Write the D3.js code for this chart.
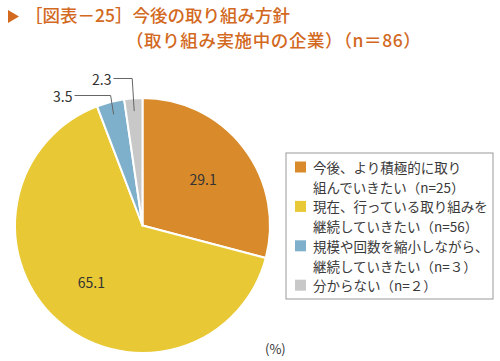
<!DOCTYPE html>
<html lang="ja">
    <head>
        <meta charset="utf-8">
        <title>図表25</title>
        <script type="text/javascript" src="https://d3js.org/d3.v7.min.js"></script>
        <style type="text/css">
            body{ margin: 0; background: #fff; }
            text{ font-family: "Noto Sans CJK JP", "Noto Sans", sans-serif; }
            .title{ fill: #d2691e; font-size: 17.5px; font-weight: 500; }
            .val{ fill: #333; font-size: 14px; }
            .leg{ fill: #3a3a3a; font-size: 13.5px; }
            .leader{ stroke: #666; stroke-width: 1; fill: none; }
        </style>
    </head>
    <body>
        <svg id="chart" width="500" height="361"></svg>
        <script type="text/javascript">
        //data
        const categories = ["今後、より積極的に取り組んでいきたい", "現在、行っている取り組みを継続していきたい", "規模や回数を縮小しながら、継続していきたい", "分からない"];
        const values = [29.1, 65.1, 3.5, 2.3];
        const colors = ["#d98b2c", "#e8c935", "#7fb0cb", "#c8c8c8"];
        const legendLines = [
            ["今後、より積極的に取り", "組んでいきたい（n=25）"],
            ["現在、行っている取り組みを", "継続していきたい（n=56）"],
            ["規模や回数を縮小しながら、", "継続していきたい（n=３）"],
            ["分からない（n=２）"]
        ];
        const titleLines = ["［図表－25］今後の取り組み方針", "（取り組み実施中の企業）（n＝86）"];

        //const
        const svg = d3.select("#chart");
        const cx = 142.5, cy = 225.5, r = 127.5;

        //title
        svg.append("path")
           .attr("d", "M8,10 L19,16.5 L8,23 Z")
           .attr("fill", "#d2691e");
        svg.selectAll(".title")
           .data(titleLines)
           .join("text")
           .attr("class", "title")
           .attr("x", (d,i) => i === 0 ? 25 : 126)
           .attr("y", (d,i) => 22 + i*25)
           .style("letter-spacing", (d,i) => i === 0 ? "0px" : "0.6px")
           .text(d => d);

        //pie
        const pie = d3.pie().sort(null).value(d => d);
        const arcs = pie(values);
        const arc = d3.arc().innerRadius(0).outerRadius(r);
        const g = svg.append("g").attr("transform", `translate(${cx},${cy})`);
        g.selectAll("path")
         .data(arcs)
         .join("path")
         .attr("d", arc)
         .attr("fill", (d,i) => colors[i])
         .attr("stroke", "#fff")
         .attr("stroke-width", 2)
         .attr("stroke-linejoin", "round");

        //inner labels for big slices
        const inner = d3.arc().innerRadius(r*0.6).outerRadius(r*0.6);
        g.selectAll(".val")
         .data(arcs.filter(d => d.value > 10))
         .join("text")
         .attr("class", "val")
         .attr("text-anchor", "middle")
         .attr("dominant-baseline", "central")
         .attr("transform", d => {
             const c = inner.centroid(d);
             return `translate(${c[0]},${c[1]})`;
         })
         .text(d => d3.format(".1f")(d.value));

        //outer labels with leader lines for small slices
        const small = arcs.filter(d => d.value <= 10);
        const elbowY = {2: -130, 3: -147};
        const labelEnd = {2: -70, 3: -31};
        const pt = d3.arc().innerRadius(r*0.9).outerRadius(r*0.9);
        small.forEach(d => {
            const i = d.index;
            const p = pt.centroid(d);
            const ex = p[0] - (i === 2 ? 3 : 2);
            const ey = elbowY[i];
            g.append("path")
             .attr("class", "leader")
             .attr("d", `M${p[0]},${p[1]} L${ex},${ey} L${labelEnd[i]+2},${ey}`);
            g.append("text")
             .attr("class", "val")
             .attr("text-anchor", "end")
             .attr("dominant-baseline", "central")
             .attr("x", labelEnd[i])
             .attr("y", ey)
             .text(d3.format(".1f")(d.value));
        });

        //legend
        const lx = 286, ly = 153;
        svg.append("rect")
           .attr("x", lx).attr("y", ly)
           .attr("width", 207).attr("height", 146)
           .attr("fill", "#fff")
           .attr("stroke", "#999")
           .attr("stroke-width", 1);
        const lineH = 19.7;
        let row = 0;
        legendLines.forEach((lines, i) => {
            const y0 = ly + 14 + row*lineH;
            svg.append("rect")
               .attr("x", lx + 9).attr("y", y0 - 5.5)
               .attr("width", 11).attr("height", 11)
               .attr("fill", colors[i]);
            lines.forEach((t, j) => {
                svg.append("text")
                   .attr("class", "leg")
                   .attr("x", lx + 27)
                   .attr("y", y0 + j*lineH)
                   .attr("dominant-baseline", "central")
                   .text(t);
            });
            row += lines.length;
        });

        //unit
        svg.append("text")
           .attr("class", "val")
           .attr("x", 265)
           .attr("y", 348)
           .attr("dominant-baseline", "central")
           .style("font-size", "13px")
           .text("(%)");
        </script>
    </body>
</html>
